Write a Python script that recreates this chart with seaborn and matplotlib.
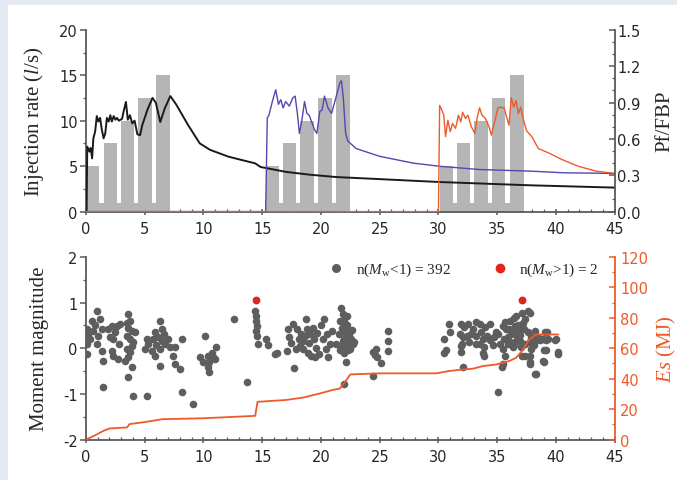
import numpy as np
import pandas as pd
import matplotlib
matplotlib.use('Agg')
import matplotlib.pyplot as plt
from matplotlib.ticker import MultipleLocator, FormatStrFormatter
from matplotlib.lines import Line2D
from matplotlib.patches import Rectangle
import seaborn as sns

# ---------------- datos ----------------
# escalones de caudal (l/s) por ciclo
cycle_start = [0.0, 15.3, 30.1]
step_left = [0.0, 1.5, 2.95, 4.45, 5.95]
step_right = [1.1, 2.6, 4.1, 5.6, 7.15]
step_rate = [5, 7.5, 10, 12.5, 15]
base_rate = 1.0

# Pf/FBP ciclo 1 (negro)
pf1_t = [0, 0.05, 0.11, 0.29, 0.4, 0.52, 0.63, 0.78, 0.92, 1.06, 1.2, 1.35, 1.5, 1.64, 1.78, 1.93,
         2.07, 2.2, 2.36, 2.5, 2.64, 2.8, 3.07, 3.2, 3.4, 3.56, 3.74, 3.94, 4.14, 4.37, 4.6, 4.8,
         5.23, 5.66, 5.95, 6.32, 6.72, 7.18, 7.67, 8.68, 9.68, 10.55, 12.13, 14.4, 14.86, 17, 19,
         21.3, 25, 30.1, 37.8, 45]
pf1_v = [0, 0, 0.536, 0.495, 0.525, 0.439, 0.605, 0.66, 0.788, 0.743, 0.773, 0.675, 0.605, 0.645,
         0.773, 0.743, 0.795, 0.743, 0.788, 0.758, 0.773, 0.75, 0.765, 0.825, 0.905, 0.758, 0.795,
         0.728, 0.75, 0.638, 0.63, 0.716, 0.84, 0.938, 0.897, 0.739, 0.855, 0.953, 0.885, 0.716,
         0.563, 0.51, 0.453, 0.398, 0.368, 0.328, 0.305, 0.285, 0.268, 0.244, 0.217, 0.198]

# Pf/FBP ciclo 2 (azul)
pf2_t = [0, 15.29, 15.43, 15.57, 15.86, 16.15, 16.38, 16.58, 16.78, 17.0, 17.3, 17.6, 17.8, 18.0,
         18.16, 18.36, 18.6, 18.8, 19.0, 19.45, 19.65, 19.9, 20.1, 20.3, 20.6, 20.9, 21.3, 21.6,
         21.74, 21.9, 22.1, 22.3, 23.0, 25, 27.85, 30.1, 33.5, 37.8, 40.7, 45]
pf2_v = [0, 0, 0.773, 0.795, 0.908, 1.005, 0.885, 0.923, 0.855, 0.908, 0.87, 0.938, 0.953, 0.803,
         0.645, 0.743, 0.908, 0.81, 0.795, 0.675, 0.645, 0.825, 0.84, 0.953, 0.855, 0.81, 0.95,
         1.06, 1.08, 0.94, 0.645, 0.58, 0.52, 0.456, 0.40, 0.374, 0.347, 0.334, 0.32, 0.315]

# Pf/FBP ciclo 3 (rojo)
pf3_t = [0, 30.0, 30.1, 30.3, 30.45, 30.6, 30.8, 31.0, 31.2, 31.45, 31.7, 31.9, 32.05, 32.3, 32.5,
         32.8, 33.1, 33.3, 33.5, 33.7, 34.0, 34.3, 34.5, 34.75, 35.07, 35.35, 35.6, 36.0, 36.2,
         36.4, 36.6, 36.8, 37.0, 37.2, 37.5, 37.95, 38.5, 39.4, 40.5, 41.9, 43.4, 45]
pf3_v = [0, 0, 0.876, 0.835, 0.795, 0.618, 0.754, 0.66, 0.727, 0.686, 0.795, 0.74, 0.82, 0.768,
         0.795, 0.70, 0.645, 0.78, 0.857, 0.795, 0.768, 0.70, 0.632, 0.727, 0.857, 0.862, 0.85,
         0.713, 0.94, 0.862, 0.917, 0.808, 0.862, 0.768, 0.667, 0.618, 0.52, 0.483, 0.43, 0.374,
         0.334, 0.315]

# sismos Mw < 1
mw_t = [0.06, 0.48, 1.19, 0.06, 0.62, 1.05, 1.33, 0.34, 0.91, 0.06, 1.33, 1.47, 1.47, 0.91, 0.2, 0.8,
        1.9, 2.2, 2.6, 2.9, 2.04, 2.3, 2.2, 2.3, 2.75, 3.3, 2.5, 2.8,
        3.6, 3.74, 3.6, 3.9, 4.2, 3.46, 3.74, 4.0, 3.46, 3.74, 3.6, 3.9, 3.6, 4.03, 3.5, 3.94,
        5.16, 5.16, 5.0, 5.3, 5.6, 5.7, 5.87, 6.15, 6.3, 6.43, 6.6, 6.0, 6.3, 5.87, 6.7, 7.0,
        7.14, 7.4, 7.6, 8.15, 8.0, 8.15, 6.3, 7.6, 6.5, 9.07,
        10.1, 9.7, 9.98, 10.4, 10.5, 10.7, 11.1, 10.97, 10.5, 10.4, 10.8,
        12.6, 13.7, 14.37, 14.5, 14.46, 14.57, 14.46, 14.57, 14.65, 15.36, 15.5, 16.07, 16.3,
        17.1, 17.2, 17.6, 17.7, 18.0, 18.1, 17.45, 17.9, 18.45, 18.7, 18.6, 18.85, 19.0, 19.15,
        19.4, 19.6, 19.7, 20.3, 20.2, 20.45, 20.6, 20.9, 21.3, 18.3, 18.9, 19.3, 19.8, 20.0,
        18.2, 19.5, 20.75, 17.3, 18.5, 19.1, 20.5,
        21.5, 21.6, 21.7, 21.75, 21.8, 21.9, 21.95, 22.0, 22.0, 22.05, 22.1, 22.1, 22.15, 22.2,
        22.25, 22.3, 22.35, 22.4, 22.5, 22.55, 22.6, 22.7, 22.8, 21.85, 22.0, 21.6, 22.2, 22.0,
        24.4, 24.4, 24.7, 24.8, 25.1, 25.7, 25.7, 25.7, 24.6,
        30.5, 30.6, 30.5, 30.9, 31.0, 31.9, 31.8, 32.0, 31.9, 32.1, 32.2, 32.5, 32.4, 32.6, 32.9,
        33.2, 33.2, 33.5, 33.6, 33.8, 33.9, 33.9, 34.0, 34.15, 34.4, 34.6, 34.9, 35.06, 33.2,
        33.8, 34.35, 32.1, 31.95, 33.5, 32.8, 34.7,
        35.5, 35.6, 35.5, 35.4, 35.5, 35.7, 35.9, 36.0, 36.1, 36.4, 36.5, 36.7, 36.8, 36.9, 37.1,
        37.2, 37.3, 37.6, 37.75, 37.9, 37.8, 37.9, 38.1, 38.2, 38.5, 38.9, 39.0, 38.9, 39.0, 39.3,
        39.2, 38.3, 37.8, 40.0, 40.2, 37.1, 36.4, 35.06, 35.2, 35.63, 35.77, 36.05, 36.34, 36.62,
        36.76, 36.9, 37.05, 37.33, 37.61, 37.76, 37.33, 37.9, 37.76, 38.32, 38.61, 39.03, 39.18,
        39.12, 39.88, 40.17, 38.18, 36.2, 36.6, 37.0, 37.4, 36.3, 35.9]
mw_v = [0.42, 0.6, 0.63, -0.13, 0.38, 0.27, 0.42, 0.2, 0.82, 0.1, -0.06, -0.27, -0.85, 0.09, 0.3, 0.5,
        0.42, 0.49, 0.49, 0.53, 0.24, 0.2, -0.06, -0.17, -0.24, -0.27, 0.35, 0.1,
        0.75, 0.6, 0.45, 0.38, 0.35, 0.27, 0.2, 0.13, -0.02, -0.09, -0.2, -0.42, -0.64, -1.04, 0.55, 0.05,
        -1.04, 0.2, -0.02, 0.09, -0.06, 0.2, 0.35, 0.24, 0.6, 0.42, 0.31, 0.06, -0.02, -0.17, 0.09, 0.2,
        0.02, -0.17, -0.35, 0.2, -0.45, -0.96, -0.38, 0.02, 0.15, -1.22,
        0.27, -0.2, -0.31, -0.17, -0.31, -0.1, 0.02, -0.24, -0.53, -0.42, -0.2,
        0.63, -0.75, 0.82, 0.71, 0.6, 0.49, 0.38, 0.27, 0.09, 0.2, 0.06, -0.13, -0.1,
        -0.06, 0.42, 0.52, -0.44, 0.42, 0.2, 0.12, -0.02, -0.02, 0.63, 0.27, 0.42, 0.12, -0.17,
        0.2, 0.01, 0.34, 0.63, 0.2, -0.02, -0.2, 0.38, 0.09, 0.3, -0.1, 0.45, -0.12, 0.5,
        0.05, -0.2, 0.1, 0.25, 0.15, 0.3, 0.3,
        0.3, 0.6, 0.89, 0.05, 0.45, 0.75, 0.2, 0.6, -0.1, 0.35, 0.42, -0.31, 0.1, 0.27,
        0.5, -0.05, 0.13, 0.3, -0.02, 0.2, 0.4, 0.1, 0.13, 0.15, 0.0, -0.05, 0.7, -0.78,
        -0.6, -0.09, -0.02, -0.2, -0.33, 0.38, 0.16, -0.06, -0.15,
        0.2, -0.05, -0.1, 0.53, 0.35, 0.53, 0.31, 0.09, -0.09, -0.42, 0.46, 0.53, 0.27, 0.13, 0.42,
        0.09, 0.27, 0.53, 0.35, 0.2, 0.02, -0.16, 0.46, 0.27, 0.53, 0.06, 0.35, -0.95, 0.57,
        -0.1, 0.17, 0.24, 0.05, 0.1, 0.3, 0.25,
        0.49, 0.2, -0.02, -0.42, -0.35, -0.17, 0.09, 0.42, 0.6, 0.67, 0.49, 0.27, 0.38, 0.16, 0.78,
        0.56, 0.42, 0.82, 0.78, 0.2, -0.17, -0.02, 0.06, 0.38, 0.24, 0.2, -0.05, -0.27, -0.31, 0.2,
        0.35, -0.56, -0.35, 0.2, -0.13, -0.17, 0.06, 0.3, 0.1, 0.57, 0.42, 0.13, 0.02, 0.71,
        0.5, 0.28, 0.02, 0.64, 0.35, 0.13, -0.17, 0.24, -0.31, 0.17, 0.17, 0.35, 0.17,
        -0.05, 0.17, -0.09, -0.56, 0.3, 0.15, 0.45, 0.1, 0.4, 0.25]

# sismos Mw > 1
big_t = [14.5, 37.1]
big_v = [1.06, 1.05]

# energía sísmica acumulada Es (MJ)
es_t = [0, 0.7, 1.5, 2.0, 3.5, 3.7, 5.0, 6.5, 10.0, 14.4, 14.6, 17.0, 18.5, 20.0, 21.0, 21.6,
        22.0, 22.5, 25.0, 29.8, 30.9, 32.0, 32.9, 33.8, 34.9, 36.0, 36.6, 37.1, 37.7, 38.3, 40.2]
es_v = [0, 2.5, 5.8, 7.3, 8.0, 10.2, 11.5, 13.4, 14.0, 15.6, 24.8, 26.0, 27.6, 30.5, 32.6, 33.5,
        37.4, 42.8, 43.5, 43.5, 45.0, 46.0, 46.5, 48.3, 49.3, 51.5, 53.7, 58.0, 65.6, 69.0, 69.0]

# ---------------- estilo ----------------
sns.set_style('ticks')
plt.rcParams['font.family'] = ['DejaVu Sans']
plt.rcParams['axes.unicode_minus'] = False
plt.rcParams['mathtext.fontset'] = 'custom'
plt.rcParams['mathtext.rm'] = 'Liberation Serif'
plt.rcParams['mathtext.it'] = 'Liberation Serif:italic'

grey_axis = '#5a5a5a'
orange = '#ee5a2a'
serif = 'Liberation Serif'

fig = plt.figure(figsize=(6.77, 4.81), dpi=100)
fig.patch.set_facecolor('#e4eaf4')
fig.add_artist(Rectangle((8 / 677, 0), 1, 1 - 6 / 481, transform=fig.transFigure,
                         facecolor='white', edgecolor='none', zorder=-5))

ax1 = fig.add_axes([0.127, 0.558, 0.781, 0.378])
ax2 = ax1.twinx()
ax3 = fig.add_axes([0.127, 0.084, 0.781, 0.380])
ax4 = ax3.twinx()


def style_axis(ax):
    for s in ax.spines.values():
        s.set_color(grey_axis)
        s.set_linewidth(1.3)
        s.set_zorder(5)
    ax.spines['top'].set_visible(False)
    ax.tick_params(which='major', length=4, width=1.1, color=grey_axis, labelsize=10.5, pad=2)
    ax.tick_params(which='minor', length=2.5, width=0.9, color=grey_axis)
    ax.tick_params(axis='x', which='major', direction='inout', length=5, pad=4)
    ax.tick_params(axis='x', which='minor', direction='in')


# ---------------- panel superior ----------------
for c in cycle_start:
    ax1.bar(c, base_rate, width=step_right[-1], align='edge', color='#b5b5b5', linewidth=0)
    ax1.bar([c + l for l in step_left], step_rate,
            width=[r - l for l, r in zip(step_left, step_right)],
            align='edge', color='#b5b5b5', linewidth=0)

ax1.set_xlim(0, 45)
ax1.set_ylim(0, 20)
ax1.xaxis.set_major_locator(MultipleLocator(5))
ax1.xaxis.set_minor_locator(MultipleLocator(1))
ax1.yaxis.set_major_locator(MultipleLocator(5))
ax1.yaxis.set_minor_locator(MultipleLocator(2.5))
style_axis(ax1)
ax1.spines['right'].set_visible(False)
ax1.set_ylabel(r'Injection rate ($\mathit{l}$/s)', family=serif, fontsize=15, labelpad=9)

sns.lineplot(x=pf1_t, y=pf1_v, ax=ax2, color='#1a1a1a', lw=1.4, sort=False, estimator=None)
sns.lineplot(x=pf2_t, y=pf2_v, ax=ax2, color='#5546b0', lw=1.0, sort=False, estimator=None)
sns.lineplot(x=pf3_t, y=pf3_v, ax=ax2, color=orange, lw=1.0, sort=False, estimator=None)
ax2.set_ylim(0, 1.5)
ax2.set_xlim(0, 45)
ax2.yaxis.set_major_locator(MultipleLocator(0.3))
ax2.yaxis.set_minor_locator(MultipleLocator(0.1))
ax2.yaxis.set_major_formatter(FormatStrFormatter('%.1f'))
style_axis(ax2)
ax2.spines['left'].set_visible(False)
ax2.spines['bottom'].set_visible(False)
ax2.tick_params(axis='y', which='both', direction='in')
ax2.set_ylabel('Pf/FBP', family=serif, fontsize=15, labelpad=10)

# ---------------- panel inferior ----------------
sns.scatterplot(x=mw_t, y=mw_v, ax=ax3, color='#5e5e5e', s=30, linewidth=0, legend=False)
sns.scatterplot(x=big_t, y=big_v, ax=ax3, color='#e3241b', s=32, linewidth=0, legend=False)
ax3.set_xlim(0, 45)
ax3.set_ylim(-2, 2)
ax3.xaxis.set_major_locator(MultipleLocator(5))
ax3.xaxis.set_minor_locator(MultipleLocator(1))
ax3.yaxis.set_major_locator(MultipleLocator(1))
ax3.yaxis.set_minor_locator(MultipleLocator(0.5))
style_axis(ax3)
ax3.spines['right'].set_visible(False)
ax3.set_ylabel('Moment magnitude', family=serif, fontsize=15, labelpad=10)

sns.lineplot(x=es_t, y=es_v, ax=ax4, color=orange, lw=1.3, sort=False, estimator=None)
ax4.set_ylim(0, 120)
ax4.set_xlim(0, 45)
ax4.yaxis.set_major_locator(MultipleLocator(20))
ax4.yaxis.set_minor_locator(MultipleLocator(10))
style_axis(ax4)
ax4.spines['left'].set_visible(False)
ax4.spines['bottom'].set_visible(False)
ax4.spines['right'].set_color(orange)
ax4.tick_params(axis='y', which='both', direction='in', color=orange, labelcolor=orange, pad=4)
ax4.set_ylabel(r'$\mathit{Es}$ (MJ)', family=serif, fontsize=15, color=orange, labelpad=5)

handles = [Line2D([], [], ls='none', marker='o', ms=6.5, color='#5e5e5e', mec='none'),
           Line2D([], [], ls='none', marker='o', ms=7, color='#e3241b', mec='none')]
labels = [r'n($\mathit{M}_{\rm w}$<1) = 392', r'n($\mathit{M}_{\rm w}$>1) = 2']
ax4.legend(handles, labels, ncol=2, loc='upper right', frameon=False,
           prop={'family': serif, 'size': 11}, handletextpad=0.3, columnspacing=2.2,
           borderaxespad=0.1, bbox_to_anchor=(0.985, 1.02))

for ax in (ax1, ax2, ax3, ax4):
    ax.set_xlabel('')
    ax.set_facecolor('none')

fig.savefig('out.png', dpi=100)
